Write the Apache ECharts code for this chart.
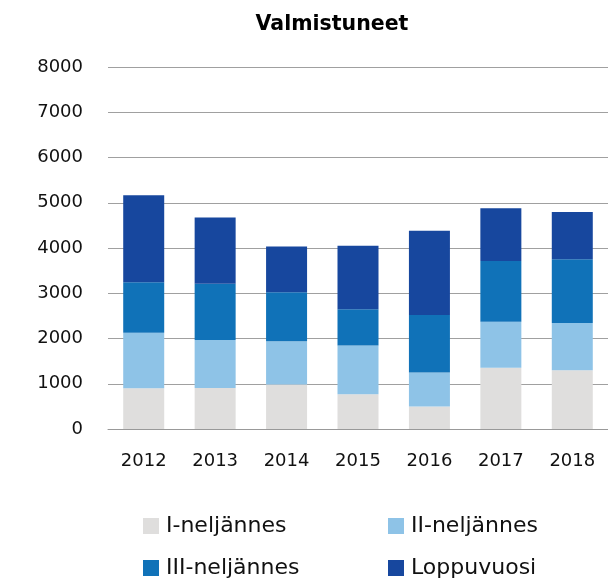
<!DOCTYPE html>
<html>
<head>
    <meta charset="utf-8">
    <title>Valmistuneet</title>
    <script src="https://cdn.jsdelivr.net/npm/echarts@6/dist/echarts.min.js"></script>
    <style>
        html, body { margin: 0; padding: 0; background: #fff; }
    </style>
</head>
<body>
    <div id="myChart" style="width: 608px;height:583px;"></div>
    <script>
        // vuodet ja neljännesten arvot (luettu kuvasta)
        var years = ['2012', '2013', '2014', '2015', '2016', '2017', '2018'];
        var q1 = [900, 905, 985, 770, 500, 1355, 1300];
        var q2 = [1225, 1060, 955, 1075, 750, 1015, 1045];
        var q3 = [1120, 1245, 1080, 800, 1270, 1340, 1405];
        var loppu = [1920, 1465, 1015, 1405, 1860, 1170, 1045];
        var seriesNames = ['I-neljännes', 'II-neljännes', 'III-neljännes', 'Loppuvuosi'];
        var colors = ['#dfdedd', '#8ec3e7', '#1072b8', '#17479e'];

        var font = 'DejaVu Sans';
        var myChart = echarts.init(document.getElementById('myChart'));

        var dataList = [q1, q2, q3, loppu];
        var series = dataList.map(function (d, i) {
            return {
                name: seriesNames[i],
                type: 'bar',
                stack: 'total',
                barWidth: 41,
                data: d,
                itemStyle: { color: colors[i] }
            };
        });

        // selite kahteen sarakkeeseen: yksi legend-komponentti per nimi
        var legendPos = [[143, 515], [388, 515], [143, 557], [388, 557]];
        var legends = seriesNames.map(function (name, i) {
            return {
                data: [name],
                left: legendPos[i][0],
                top: legendPos[i][1],
                icon: 'rect',
                itemWidth: 16,
                itemHeight: 16,
                padding: 0,
                textStyle: { fontFamily: font, fontSize: 22, color: '#111', lineHeight: 22, padding: [0, 0, 0, 2] }
            };
        });

        var option = {
            animation: false,
            backgroundColor: '#fff',
            title: {
                text: 'Valmistuneet',
                left: 327,
                textAlign: 'center',
                top: 9,
                textStyle: { fontFamily: font, fontSize: 20.5, fontWeight: 'bold', color: '#000' }
            },
            legend: legends,
            grid: {
                left: 108,
                right: -2,
                top: 67,
                bottom: 154
            },
            xAxis: {
                type: 'category',
                data: years,
                axisTick: { show: false },
                axisLine: { lineStyle: { color: '#999', width: 1 } },
                axisLabel: { fontFamily: font, fontSize: 18, color: '#111', margin: 23 }
            },
            yAxis: {
                type: 'value',
                min: 0,
                max: 8000,
                interval: 1000,
                axisLine: { show: false },
                axisTick: { show: false },
                splitLine: { lineStyle: { color: '#a0a0a0', width: 1 } },
                axisLabel: {
                    fontFamily: font, fontSize: 18, color: '#111', margin: 25,
                    formatter: function (v) { return String(v); }
                }
            },
            series: series
        };
        myChart.setOption(option);
    </script>
</body>
</html>
